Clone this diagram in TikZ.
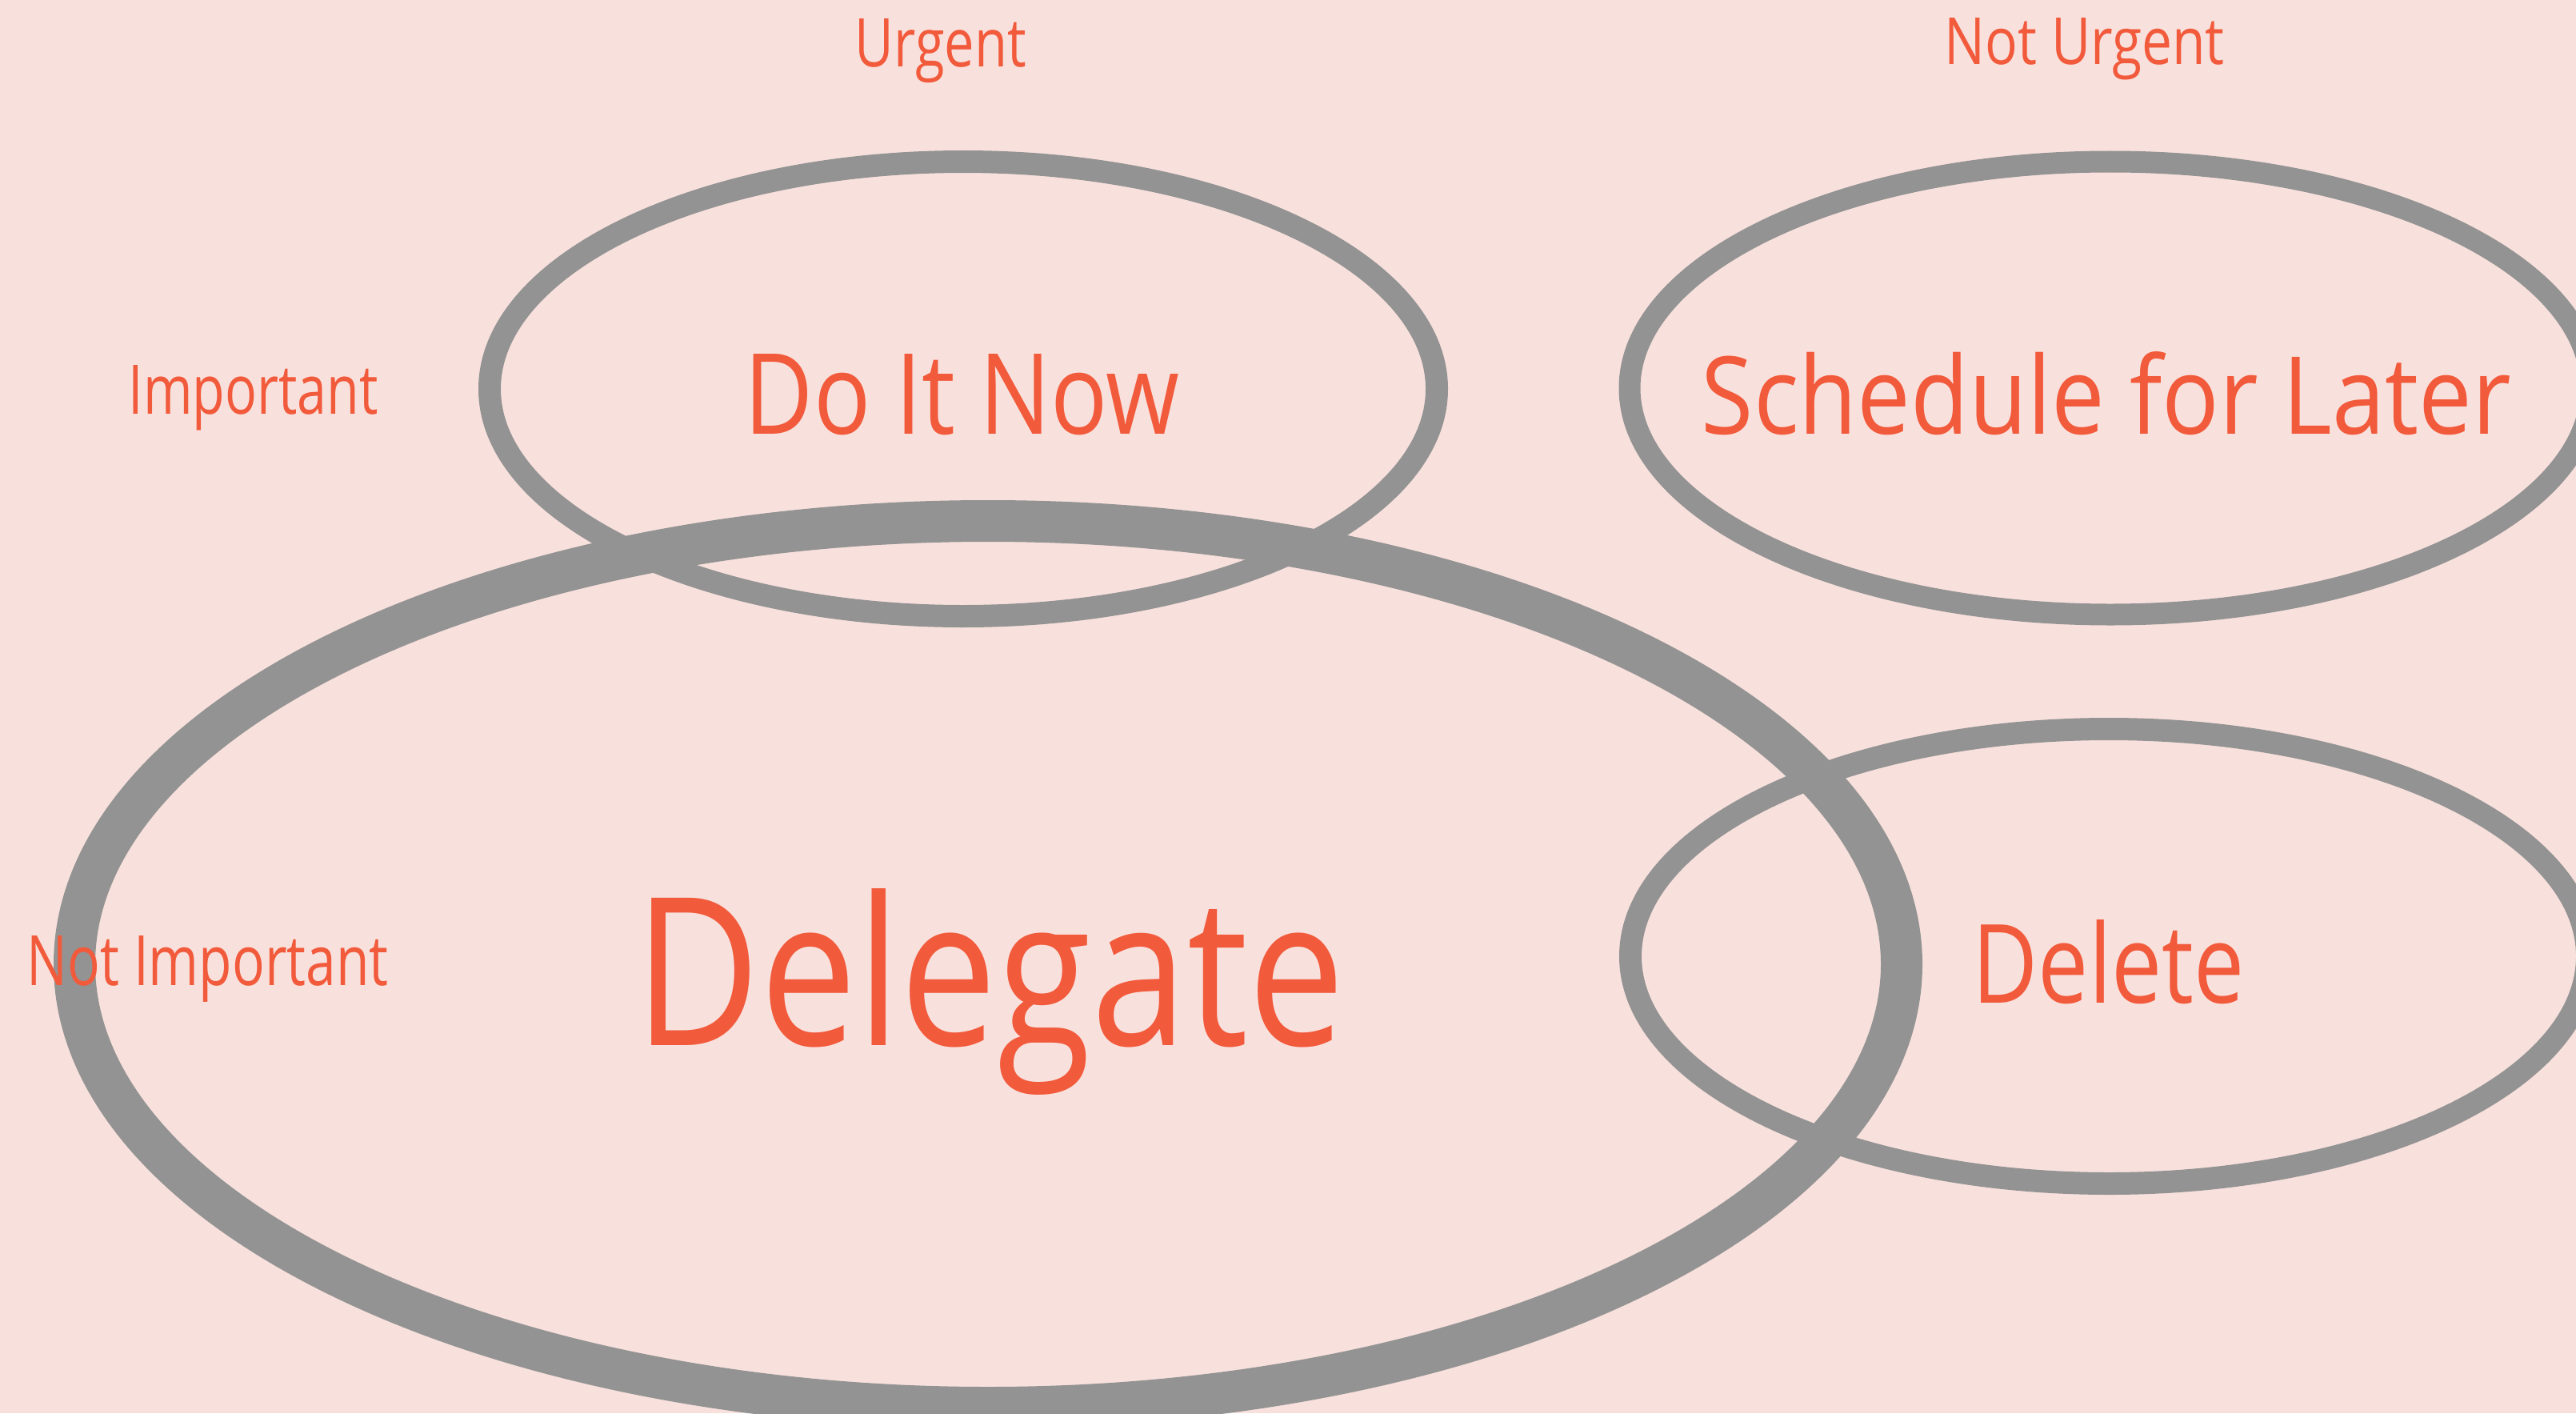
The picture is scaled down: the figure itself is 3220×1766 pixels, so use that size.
\documentclass[tikz,border=0pt]{standalone}
\usepackage{fontspec}
\setmainfont{Open Sans}
\usepackage{graphicx}
\usetikzlibrary{shapes.geometric}
\definecolor{bgpink}{HTML}{F8E1DD}
\definecolor{ringgray}{HTML}{939393}
\definecolor{txtred}{HTML}{F25A3C}
\begin{document}
\begin{tikzpicture}[x=0.25pt,y=-0.25pt,
  ring/.style={draw=ringgray, ellipse, inner sep=0pt},
  lbl/.style={text=txtred, inner sep=0pt, anchor=base west}]
\fill[bgpink] (0,0) rectangle (3220,1766);
\useasboundingbox (0,0) rectangle (3220,1766);
\clip (0,0) rectangle (3220,1766);
% rings
\node[ring, line width=7pt, minimum width=296pt, minimum height=142pt] (doitring) at (1204,486) {};
\node[ring, line width=6.75pt, minimum width=300.5pt, minimum height=141.5pt] (schedring) at (2638,485) {};
\node[ring, line width=7pt, minimum width=299pt, minimum height=142pt] (delring) at (2636,1195) {};
\node[ring, line width=13pt, minimum width=571pt, minimum height=277pt] (delegring) at (1235,1205) {};
% axis labels
\node[lbl] (urgent) at (1068,83) {\resizebox{53.5pt}{15pt}{Urgent}};
\node[lbl] (noturgent) at (2430,80) {\resizebox{87.5pt}{14.5pt}{Not Urgent}};
\node[lbl] (important) at (160,517) {\resizebox{78pt}{15.25pt}{Important}};
\node[lbl] (notimportant) at (33,1231) {\resizebox{113pt}{15.5pt}{Not Important}};
% quadrant labels
\node[lbl] (doit) at (930,542) {\resizebox{136pt}{25pt}{Do It Now}};
\node[lbl] (schedule) at (2126,542) {\resizebox{253pt}{25.75pt}{Schedule for Later}};
\node[lbl] (delete) at (2465,1253) {\resizebox{85pt}{26pt}{Delete}};
\node[lbl] (delegate) at (793,1306) {\resizebox{221.75pt}{49pt}{Delegate}};
\end{tikzpicture}
\end{document}
